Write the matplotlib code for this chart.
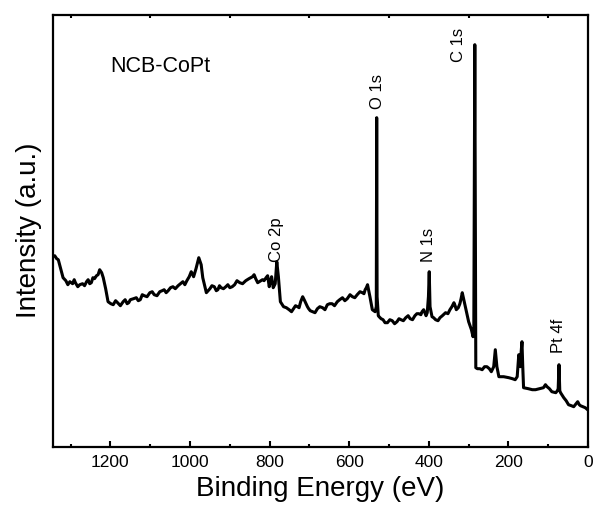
import numpy as np
import matplotlib
matplotlib.use('Agg')
import matplotlib.pyplot as plt
from matplotlib.ticker import MultipleLocator

plt.rcParams['font.family'] = ['Liberation Sans', 'DejaVu Sans']

# XPS survey spectrum (binding energy in eV, intensity in a.u.)
energy = [1345, 1340, 1335, 1331, 1325, 1319, 1312, 1302, 1295, 1288,
          1277, 1270, 1260, 1252, 1244, 1235, 1227, 1222, 1218, 1212,
          1206, 1199, 1193, 1182, 1168, 1158, 1150, 1135, 1125, 1115,
          1101, 1090, 1076, 1065, 1055, 1043, 1030, 1018, 1008, 997,
          991, 985, 978, 972, 968, 959, 950, 939, 930, 922,
          910, 900, 888, 875, 860, 843, 835, 826, 818, 809,
          801, 798, 795, 791, 786, 782, 778, 773, 765, 758,
          751, 740, 730, 722, 717, 712, 705, 698, 692, 680,
          667, 655, 643, 630, 617, 605, 592, 580, 567, 560,
          554, 548, 542, 535, 532, 531, 530, 527, 525, 515,
          504, 492, 480, 470, 458, 447, 435, 425, 417, 410,
          404, 401, 399, 397, 392, 383, 372, 358, 347, 337,
          331, 322, 316, 311, 308, 300, 293, 289, 287, 284.5,
          282, 278, 272, 266, 260, 254, 248, 243, 237, 233,
          229, 224, 212, 199, 190, 183, 178, 174, 170, 168,
          166, 164, 162, 150, 140, 132, 122, 112, 107, 103,
          97, 91, 81, 77, 75, 73, 71, 69, 61, 55,
          49, 42, 36, 30, 26, 22, 19, 13, 7, 1]
intensity = [190, 191, 188, 187, 178, 169, 166, 165, 163, 164,
             162, 163, 165, 163, 169, 171, 177, 174, 169, 158,
             145, 143, 142, 144, 145, 143, 147, 149, 147, 151,
             154, 152, 155, 157, 156, 160, 161, 165, 166, 175,
             170, 178, 189, 182, 169, 154, 158, 160, 157, 159,
             160, 159, 162, 164, 166, 170, 168, 165, 167, 169,
             160, 166, 170, 159, 163, 185, 170, 145, 140, 139,
             137, 138, 140, 145, 150, 146, 140, 136, 135, 138,
             139, 142, 143, 145, 149, 148, 150, 152, 154, 157,
             162, 150, 137, 135, 140, 329, 150, 131, 130, 127,
             124, 126, 125, 127, 129, 128, 131, 133, 135, 134,
             134, 150, 175, 140, 130, 127, 129, 134, 137, 144,
             137, 143, 154, 145, 140, 125, 117, 110, 115, 402,
             79, 78, 78, 77, 80, 80, 78, 75, 80, 97,
             80, 70, 70, 69, 68, 67, 70, 92, 80, 95,
             105, 80, 59, 58, 57, 57, 58, 59, 62, 60,
             58, 55, 54, 56, 58, 82, 56, 54, 49, 46,
             42, 41, 40, 43, 45, 42, 41, 40, 39, 37]

# extra points read from the noisy background stretches
noise_energy = [1307, 1291, 1282, 1265, 1256, 1248, 1240, 1231,
                1187, 1175, 1163, 1154, 1142, 1130, 1120, 1108, 1095, 1083,
                1070, 1060, 1049, 1037, 1024, 1013, 1002,
                945, 934, 926, 916, 905, 894, 882, 868, 852, 839, 830, 814, 805,
                745, 735, 726, 702, 686, 674, 661, 649, 637, 624, 611, 598,
                586, 573, 563, 557,
                520, 510, 498, 486, 475, 464, 452, 441, 430, 420, 413, 407,
                388, 377, 366, 352, 342, 334, 326, 319]
noise_intensity = [162, 167, 160, 161, 167, 164, 168, 172,
                   146, 141, 147, 144, 148, 146, 152, 150, 155, 151,
                   156, 154, 159, 158, 163, 162, 170,
                   161, 156, 161, 158, 162, 160, 166, 163, 168, 172, 164, 166, 171,
                   135, 141, 139, 138, 134, 140, 137, 143, 141, 147, 146, 152,
                   149, 155, 153, 159,
                   128, 124, 127, 123, 128, 126, 131, 127, 133, 132, 137, 131,
                   129, 126, 131, 133, 140, 141, 139, 148]

e_all = np.array(energy + noise_energy, dtype=float)
i_all = np.array(intensity + noise_intensity, dtype=float)
order = np.argsort(-e_all)
e_all, i_all = e_all[order], i_all[order]

fig = plt.figure(figsize=(5.95, 5.16), dpi=100)
ax = fig.add_axes([0.0886, 0.1343, 0.8997, 0.8372])

ax.plot(e_all, i_all, color='black', lw=2.2, solid_joinstyle='round')

ax.set_xlim(1345, 0)
ax.set_ylim(0, 432)

ax.xaxis.set_major_locator(MultipleLocator(200))
ax.xaxis.set_minor_locator(MultipleLocator(100))
ax.tick_params(axis='x', which='major', direction='in', length=4, width=1.5,
               labelsize=12.5, pad=6, top=False)
ax.tick_params(axis='x', which='minor', direction='in', length=2.5, width=1.5,
               top=True)
ax.set_yticks([])
for s in ax.spines.values():
    s.set_linewidth(1.6)

ax.set_xlabel('Binding Energy (eV)', fontsize=20, labelpad=4)
ax.set_ylabel('Intensity (a.u.)', fontsize=20, labelpad=8)

# sample name and peak labels
ax.text(1200, 380, 'NCB-CoPt', fontsize=15.5, va='center', ha='left')
ax.text(529, 338, 'O 1s', rotation=90, ha='center', va='bottom', fontsize=12)
ax.text(325, 385, 'C 1s', rotation=90, ha='center', va='bottom', fontsize=12)
ax.text(400, 185, 'N 1s', rotation=90, ha='center', va='bottom', fontsize=12)
ax.text(783, 185, 'Co 2p', rotation=90, ha='center', va='bottom', fontsize=12)
ax.text(74, 94, 'Pt 4f', rotation=90, ha='center', va='bottom', fontsize=12)

fig.savefig('out.png', dpi=100)
